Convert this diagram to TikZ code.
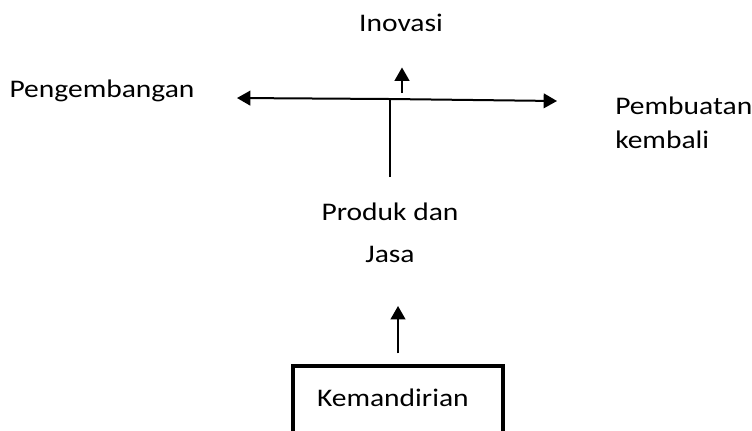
\documentclass[tikz,border=0pt]{standalone}
\usepackage{fontspec}
\setmainfont{Carlito}[FakeStretch=1.165]
\usetikzlibrary{arrows.meta, positioning}
\tikzset{
  txt/.style={font=\fontsize{19}{25.5}\selectfont, inner sep=0pt},
  frame/.style={rectangle, draw=black, line width=3pt, text width=121.5pt, align=left, inner xsep=18pt, inner ysep=0pt, text height=30pt, text depth=30pt},
  arrow/.style={line width=1.5pt, -{Triangle[width=11pt,length=10pt]}},
  plain/.style={line width=1.5pt}
}

\begin{document}
\begin{tikzpicture}[x=0.75pt, y=-0.75pt]
  \useasboundingbox (0,0) rectangle (752,430);
  \clip (0,0) rectangle (752,430);

  \node (inovasi) [txt, anchor=base] at (401,31) {Inovasi};
  \node (pengembangan) [txt, anchor=base] at (102,97) {Pengembangan};
  \node (pembuatan) [txt, anchor=base west, align=left] at (615,148) {Pembuatan\\kembali};
  \node (produk) [txt, anchor=base, align=center] at (390,262) {Produk dan\\[6pt]Jasa};
  \node (kemandirian) [txt, frame, anchor=north] at (398,364) {Kemandirian};

  \coordinate (hub) at (390,99);
  \coordinate (kiri) at (237,98);
  \coordinate (kanan) at (557,101);
  \coordinate (pangkal) at (402,93);

  \draw [arrow] (hub) -- (kiri);
  \draw [arrow] (hub) -- (kanan);
  \draw [arrow, shorten >=27pt] (pangkal) -- (pangkal |- inovasi.south);
  \draw [plain] (produk.north) ++(0,-25) -- (hub);
  \draw [arrow, shorten <=8pt] (kemandirian.north) -- ++(0,-58);

\end{tikzpicture}
\end{document}
